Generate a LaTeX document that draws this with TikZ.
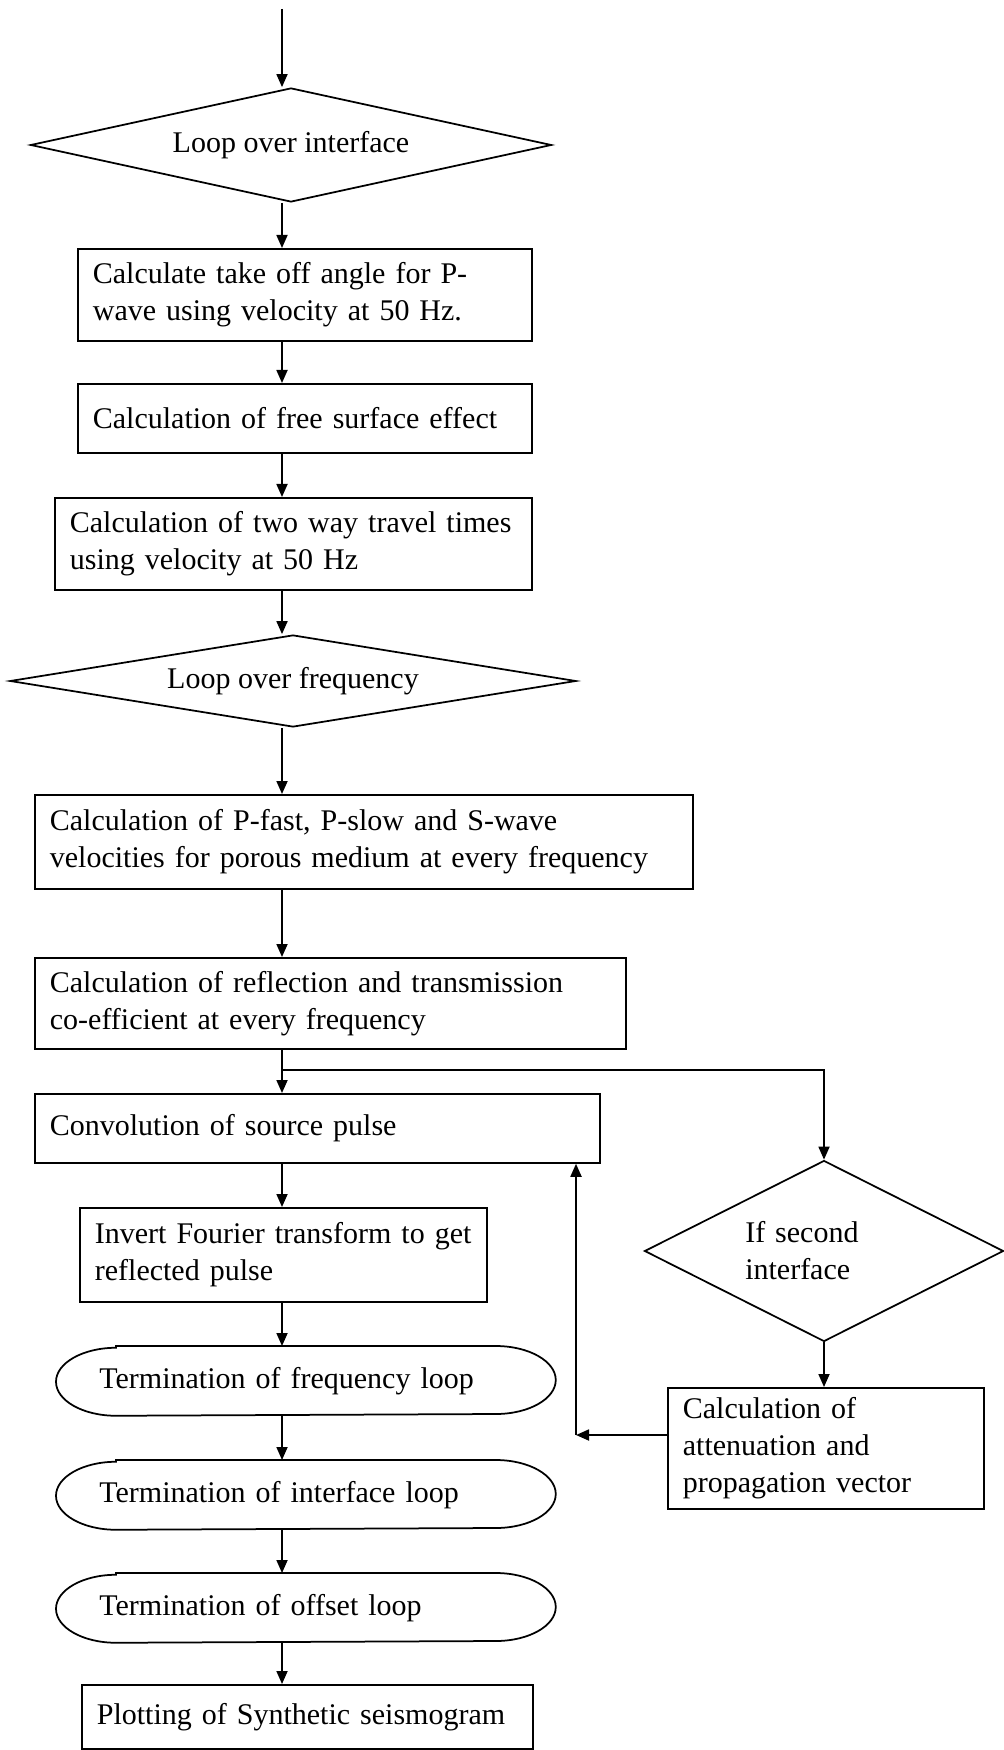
\documentclass[tikz,border=0pt]{standalone}
\usepackage{fontspec}
\setmainfont{Liberation Serif}
\usetikzlibrary{shapes.geometric, arrows.meta}

\tikzset{
  blk/.style={draw, rectangle, anchor=north west, inner xsep=6pt, inner ysep=0pt, align=left},
  term/.style={rectangle, anchor=north west, inner xsep=17pt, inner ysep=0pt, align=left,
    text width=165.2pt, minimum height=27.2pt},
  dec/.style={draw, diamond, inner sep=1pt, align=center},
  arr/.style={-{Triangle[length=5.2pt, width=4.4pt]}},
}

\begin{document}
\begin{tikzpicture}[x=0.4pt, y=-0.4pt, line width=0.7pt, font=\fontsize{12}{14.8}\selectfont]
\useasboundingbox (0,0) rectangle (1004,1750);

% main column
\coordinate (start) at (282,9);
\node[dec, minimum width=208.4pt, minimum height=45.6pt, shape aspect=4.57] (loopifc) at (291,145) {Loop over interface};
\node[blk, text width=169.6pt, minimum height=36.8pt] (takeoff) at (77,248) {Calculate take off angle for P-\\wave using velocity at 50 Hz.};
\node[blk, text width=169.6pt, minimum height=27.6pt] (surface) at (77,383) {Calculation of free surface effect};
\node[blk, text width=178.8pt, minimum height=36.8pt] (travel) at (54,497) {Calculation of two way travel times\\using velocity at 50 Hz};
\node[dec, minimum width=226.4pt, minimum height=36.8pt, shape aspect=6.15] (loopfreq) at (293,681) {Loop over frequency};
\node[blk, text width=251.2pt, minimum height=37.6pt] (velo) at (34,794) {Calculation of P-fast, P-slow and S-wave\\velocities for porous medium at every frequency};
\node[blk, text width=224.4pt, minimum height=36.4pt] (coeff) at (34,957) {Calculation of reflection and transmission\\co-efficient at every frequency};
\node[blk, text width=214pt, minimum height=27.6pt] (convol) at (34,1093) {Convolution of source pulse};
\node[blk, text width=150.8pt, minimum height=37.6pt] (invert) at (79,1207) {Invert Fourier transform to get\\reflected pulse};
\node[term] (termfreq) at (56,1346) {Termination of frequency loop};
\node[term] (termifc) at (56,1460) {Termination of interface loop};
\node[term] (termoff) at (56,1573) {Termination of offset loop};
\node[blk, text width=168.4pt, minimum height=25.6pt] (plot) at (81,1684) {Plotting of Synthetic seismogram};

% side branch
\node[dec, minimum width=143.6pt, minimum height=72.4pt, shape aspect=1.98, text width=63pt, align=left] (second) at (824,1251) {If second\\interface};
\node[blk, text width=114.4pt, minimum height=48.4pt] (atten) at (667,1387) {Calculation of\\attenuation and\\propagation vector};

% loop ends
\foreach \n in {termfreq,termifc,termoff}
  \draw ([xshift=24pt]\n.north west) -- ([xshift=-24pt]\n.north east)
    arc[start angle=90, end angle=-90, x radius=24pt, y radius=13.6pt]
    -- ([xshift=24pt]\n.south west)
    arc[start angle=270, end angle=90, x radius=24pt, y radius=13.6pt] -- cycle;

% connectors
\draw[arr] (start) -- (start |- loopifc.north);
\draw[arr] (loopifc.south -| start) -- (start |- takeoff.north);
\draw[arr] (takeoff.south -| start) -- (start |- surface.north);
\draw[arr] (surface.south -| start) -- (start |- travel.north);
\draw[arr] (travel.south -| start) -- (start |- loopfreq.north);
\draw[arr] (loopfreq.south -| start) -- (start |- velo.north);
\draw[arr] (velo.south -| start) -- (start |- coeff.north);
\draw[arr] (coeff.south -| start) -- (start |- convol.north);
\draw[arr] (convol.south -| start) -- (start |- invert.north);
\draw[arr] (invert.south -| start) -- (start |- termfreq.north);
\draw[arr] (termfreq.south -| start) -- (start |- termifc.north);
\draw[arr] (termifc.south -| start) -- (start |- termoff.north);
\draw[arr] (termoff.south -| start) -- (start |- plot.north);

\coordinate (split) at (282,1070);
\draw[arr] (split) -| (second.north);
\draw[arr] (second.south) -- (second.south |- atten.north);
\coordinate (back) at (576,1435);
\draw[arr] (atten.west |- back) -- (back);
\draw[arr] (back) -- (back |- convol.south);
\end{tikzpicture}
\end{document}
